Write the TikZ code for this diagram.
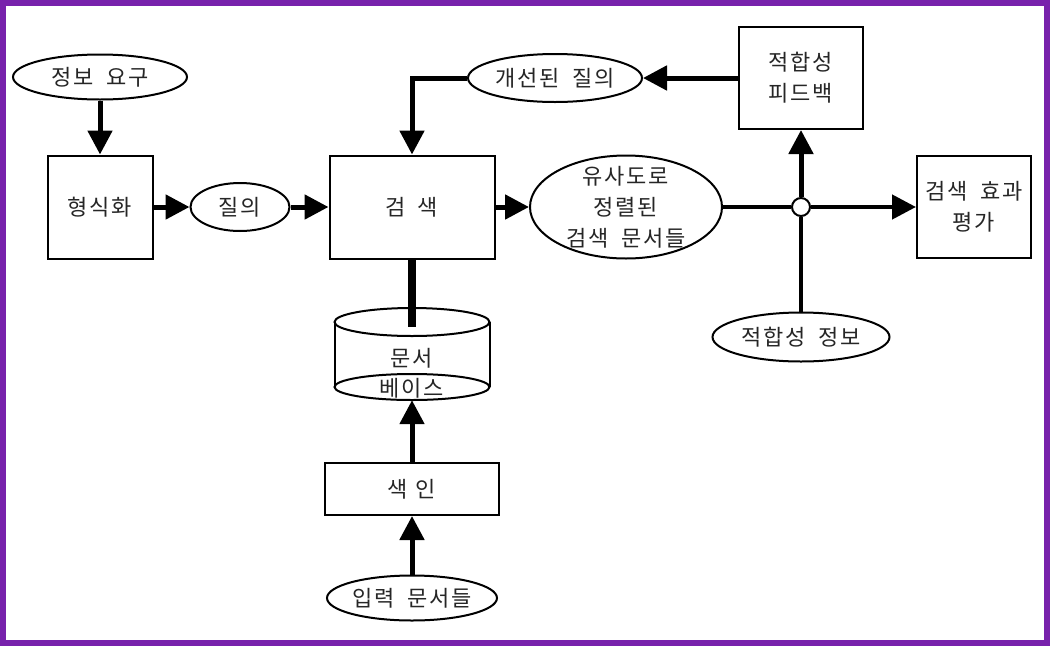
\documentclass[tikz,border=0pt]{standalone}
\usepackage{fontspec}
\newfontfamily\kr[LetterSpace=8,WordSpace=1.8]{Noto Sans CJK KR}
\usetikzlibrary{arrows.meta,shapes.geometric}
\definecolor{frame}{RGB}{120,34,172}
\begin{document}
\begin{tikzpicture}[x=1pt,y=-1pt,
  every node/.style={font=\kr\fontsize{22}{31}\selectfont, text=black!85},
  box/.style={draw=black, line width=2pt, rectangle, inner sep=0pt, align=center},
  ell/.style={draw=black, line width=2pt, ellipse, inner sep=0pt, align=center},
  arr/.style={line width=5pt, -{Triangle[length=24pt,width=24pt]}},
  ln/.style={line width=4.5pt}]
\useasboundingbox (0,0) rectangle (1050,646);
\fill[white] (0,0) rectangle (1050,646);
\draw[line width=6pt, draw=frame] (3,3) rectangle (1047,643);

\node[ell, minimum width=174pt, minimum height=45pt] (need) at (100,77) {정보 요구};
\node[box, minimum width=105pt, minimum height=103pt] (form) at (100,207) {형식화};
\node[ell, minimum width=99pt, minimum height=48pt] (q) at (240,207) {질의};
\node[box, minimum width=165pt, minimum height=103pt] (search) at (412,207) {검\hspace{12pt}색};
\node[ell, minimum width=192pt, minimum height=103pt,
      label={[align=center]center:{유사도로\\정렬된\\검색 문서들}}] (sim) at (626,207) {};
\node[box, minimum width=114pt, minimum height=102pt] (eval) at (974,207) {검색 효과\\평가};
\node[box, minimum width=124pt, minimum height=102pt] (fb) at (801,78) {적합성\\피드백};
\node[ell, minimum width=177pt, minimum height=49pt] (info) at (801,337) {적합성 정보};
\node[ell, minimum width=174pt, minimum height=48pt] (imp) at (555,78) {개선된 질의};
\node[minimum width=155pt, minimum height=92pt, inner sep=0pt] (db) at (412,354) {};
\node[box, minimum width=174pt, minimum height=52pt] (idx) at (412,489) {색\hspace{8pt}인};
\node[ell, minimum width=170pt, minimum height=45pt] (input) at (412,598) {입력 문서들};

% cylinder (문서 베이스)
\draw[line width=2pt] (412,322) ellipse [x radius=77.5pt, y radius=14pt];
\draw[line width=2pt] (412,387) ellipse [x radius=77.5pt, y radius=13pt];
\draw[line width=2pt] (334.5,322) -- (334.5,387) (489.5,322) -- (489.5,387);
\node (dbt1) at (412,358) {문서};
\node (dbt2) at (412,388) {베이스};
\coordinate (dbbar) at (412,327);

% connectors
\draw[arr] (need.south) -- (form.north);
\draw[arr] (form.east) -- (q.west);
\draw[arr] (q.east) -- (search.west);
\draw[arr] (search.east) -- (sim.west);
\node[circle, draw=black, fill=white, line width=2pt, minimum size=18pt, inner sep=0pt] (junc) at (801,207) {};
\draw[ln] (sim.east) -- (junc.west);
\draw[arr, line width=4.5pt] (junc.east) -- (eval.west);
\draw[ln] (info.north) -- (junc.south);
\draw[arr] (junc.north) -- (fb.south);
\draw[arr] (fb.west) -- (imp.east);
\draw[arr] (imp.west) -| (search.north);
\draw[line width=8pt] (search.south) -- (dbbar);
\draw[arr] (idx.north) -- (db.south);
\draw[arr] (input.north) -- (idx.south);
\end{tikzpicture}
\end{document}
